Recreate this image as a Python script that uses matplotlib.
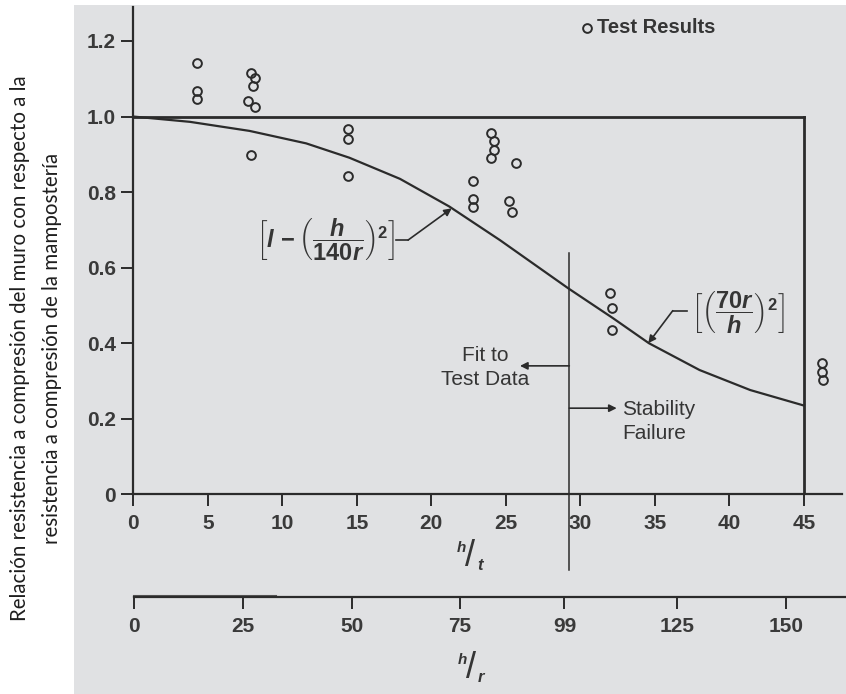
import matplotlib
matplotlib.use("Agg")
import matplotlib.pyplot as plt
from matplotlib.patches import Rectangle

# test results (h/t, strength ratio)
test_ht = [4.3, 4.3, 4.3, 7.9, 8.2, 8.0, 7.7, 8.2, 7.9, 14.4, 14.4, 14.4,
           24.0, 24.2, 24.2, 24.0, 25.7, 22.8, 22.8, 22.8, 25.2, 25.4,
           32.0, 32.1, 32.1, 46.2, 46.2, 46.3]
test_ratio = [1.143, 1.068, 1.046, 1.116, 1.101, 1.081, 1.042, 1.026, 0.898,
              0.966, 0.940, 0.843, 0.956, 0.934, 0.912, 0.890, 0.876, 0.829,
              0.781, 0.760, 0.776, 0.746, 0.532, 0.494, 0.435, 0.347, 0.325,
              0.303]

# design curve
curve_ht = [0, 3.8, 7.8, 11.6, 14.5, 17.9, 21.2, 24.6, 29.2, 32.2, 34.6,
            38.0, 41.4, 45.0]
curve_ratio = [1.0, 0.986, 0.962, 0.929, 0.891, 0.835, 0.762, 0.673, 0.545,
               0.466, 0.400, 0.329, 0.276, 0.235]

ht_ticks = [0, 5, 10, 15, 20, 25, 30, 35, 40, 45]
hr_ticks = [0, 25, 50, 75, 99, 125, 150]
y_ticks = [0, 0.2, 0.4, 0.6, 0.8, 1.0, 1.2]
y_labels = ["0", "0.2", "0.4", "0.6", "0.8", "1.0", "1.2"]
stability_ht = 29.26
limit_ht = 45

W, H = 846, 694
ink = "#2b2b2b"
txt = "#353535"

plt.rcParams["font.family"] = ["Liberation Sans", "DejaVu Sans"]
plt.rcParams["mathtext.fontset"] = "custom"
plt.rcParams["mathtext.rm"] = "Liberation Sans:bold"
plt.rcParams["mathtext.it"] = "Liberation Sans:italic:bold"
plt.rcParams["mathtext.bf"] = "Liberation Sans:bold"


def fx(x):
    return x / W


def fy(y):
    return 1 - y / H


fig = plt.figure(figsize=(W / 100, H / 100), dpi=100)
fig.patches.append(Rectangle((fx(74), 0), 1, fy(5), transform=fig.transFigure,
                             facecolor="#e0e1e3", edgecolor="none", zorder=-10))

ax = fig.add_axes([fx(133.3), fy(494.3), fx(842) - fx(133.3), fy(7) - fy(494.3)])
ax.set_facecolor("none")
ax.set_xlim(0, 47.56)
ax.set_ylim(0, 1.29)
for s in ["top", "right"]:
    ax.spines[s].set_visible(False)
for s in ["left", "bottom"]:
    ax.spines[s].set_linewidth(1.6)
    ax.spines[s].set_color(ink)
ax.set_xticks(ht_ticks)
ax.set_yticks(y_ticks)
ax.set_yticklabels(y_labels)
ax.tick_params(axis="both", direction="out", length=8.5, width=1.4, color=ink,
               labelsize=15, labelcolor="#3a3a3a")
ax.tick_params(axis="x", pad=6)
ax.tick_params(axis="y", pad=4)
for lab in ax.get_xticklabels() + ax.get_yticklabels():
    lab.set_fontweight("bold")

# frame of the limits
ax.plot([0, limit_ht], [1.0, 1.0], color=ink, lw=2.0)
ax.plot([limit_ht, limit_ht], [0, 1.0], color=ink, lw=2.0)
ax.plot([stability_ht, stability_ht], [0.64, -0.2], color=ink, lw=1.1, clip_on=False)

ax.plot(curve_ht, curve_ratio, color=ink, lw=1.6)
ax.plot(test_ht, test_ratio, "o", ms=6.3, mfc="none", mec=ink, mew=1.4, clip_on=False)

# legend
ax.plot([30.45], [1.235], "o", ms=6.3, mfc="none", mec=ink, mew=1.4)
ax.text(31.1, 1.235, "Test Results", va="center", ha="left", fontsize=14.5,
        color=txt, fontweight="bold")

# formulas
ax.text(12.87, 0.673, r"$\left[l\,-\left(\dfrac{h}{140r}\right)^2\right]$",
        ha="center", va="center", fontsize=17, color=txt)
ax.text(40.58, 0.48, r"$\left[\left(\dfrac{70r}{h}\right)^2\right]$",
        ha="center", va="center", fontsize=17, color=txt)
arrow = dict(arrowstyle="-|>", color=ink, lw=1.2, mutation_scale=11, shrinkA=0, shrinkB=0)
ax.plot([17.64, 18.44], [0.673, 0.673], color=ink, lw=1.2)
ax.annotate("", xy=(21.37, 0.757), xytext=(18.44, 0.673), arrowprops=arrow)
ax.plot([37.17, 36.2], [0.486, 0.486], color=ink, lw=1.2)
ax.annotate("", xy=(34.56, 0.400), xytext=(36.2, 0.486), arrowprops=arrow)

# stability split
ax.annotate("", xy=(25.95, 0.34), xytext=(stability_ht, 0.34), arrowprops=arrow)
ax.annotate("", xy=(32.44, 0.228), xytext=(stability_ht, 0.228), arrowprops=arrow)
ax.text(23.6, 0.336, "Fit to\nTest Data", ha="center", va="center",
        fontsize=15, color=txt, linespacing=1.3)
ax.text(32.8, 0.193, "Stability\nFailure", ha="left", va="center",
        fontsize=15, color=txt, linespacing=1.35)

# second scale in h/r
ax2 = fig.add_axes([fx(134.3), fy(597.3), fx(846) - fx(134.3), 0.01])
ax2.set_facecolor("none")
ax2.set_xlim(0, (846 - 134.3) / 4.345)
ax2.set_ylim(0, 1)
for s in ["top", "right", "left"]:
    ax2.spines[s].set_visible(False)
ax2.spines["bottom"].set_linewidth(1.6)
ax2.spines["bottom"].set_color(ink)
ax2.set_yticks([])
ax2.set_xticks(hr_ticks)
ax2.tick_params(axis="x", direction="out", length=8.5, width=1.4, color=ink,
                labelsize=15, labelcolor="#3a3a3a", pad=6)
for lab in ax2.get_xticklabels():
    lab.set_fontweight("bold")
ax2.plot([0, 32.5], [0.25, 0.25], color="#555555", lw=1.5, clip_on=False)


def slash_label(x, y, num, den):
    fig.text(fx(x - 9), fy(y - 9), num, fontsize=11, style="italic",
             fontweight="bold", color=txt, ha="center", va="center")
    fig.text(fx(x), fy(y), "/", fontsize=26, color=txt, ha="center", va="center")
    fig.text(fx(x + 10), fy(y + 9), den, fontsize=12, style="italic",
             fontweight="bold", color=txt, ha="center", va="center")


slash_label(470, 557, "h", "t")
slash_label(471, 669, "h", "r")

# y axis title, two lines
fig.text(fx(20), fy(348), "Relación resistencia a compresión del muro con respecto a la",
         rotation=90, ha="center", va="center", fontsize=14.8, color="#1e1e1e",
         family=["Lato", "DejaVu Sans"])
fig.text(fx(52), fy(348), "resistencia a compresión de la mampostería",
         rotation=90, ha="center", va="center", fontsize=14.8, color="#1e1e1e",
         family=["Lato", "DejaVu Sans"])

fig.savefig("out.png", dpi=100)
